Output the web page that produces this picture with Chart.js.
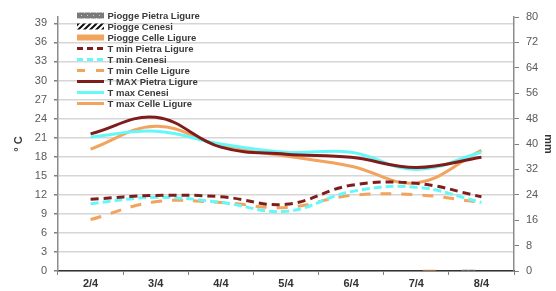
<!DOCTYPE html>
<html><head><meta charset="utf-8">
<script src="https://cdn.jsdelivr.net/npm/chart.js@4/dist/chart.umd.min.js"></script>
<style>html,body{margin:0;padding:0;background:#fff;}#wrap{width:556px;height:291px;}</style>
</head><body><div id="wrap"><canvas id="c" width="556" height="291"></canvas></div>
<script>
const categories = ['2/4','3/4','4/4','5/4','6/4','7/4','8/4'];
const rainPietra = [0,0,0,0,0,0,0.4];
const rainCenesi = [0,0,0,0,0,0,0];
const rainCelle  = [0,0,0,0,0,0.4,0];
const tminPietra = [11.3,11.9,11.7,10.5,13.5,13.8,11.7];
const tminCenesi = [10.6,11.6,10.8,9.4,12.5,13.2,10.8];
const tminCelle  = [8.1,10.9,10.8,10.0,11.9,12.0,10.8];
const tmaxPietra = [21.6,24.2,19.5,18.4,17.9,16.3,17.9];
const tmaxCenesi = [21.1,22.0,20.0,18.7,18.7,16.0,18.7];
const tmaxCelle  = [19.2,22.8,19.7,18.1,16.5,13.9,19.0];
const leftTicks  = [0,3,6,9,12,15,18,21,24,27,30,33,36,39];
const rightTicks = [0,8,16,24,32,40,48,56,64,72,80];

const FONT = '"Liberation Sans", Arial, sans-serif';
const DARKRED = '#7f1d1d', CYAN = '#66f8f8', ORANGE = '#f2a35e';

function makePattern(kind){
  const c = document.createElement('canvas'); c.width = 6; c.height = 6;
  const g = c.getContext('2d');
  if(kind === 'dots'){
    g.fillStyle = '#7a7a7a'; g.fillRect(0,0,6,6);
    g.fillStyle = '#d0d0d0'; g.fillRect(0,0,1,1); g.fillRect(3,3,1,1);
  } else {
    g.fillStyle = '#fff'; g.fillRect(0,0,6,6);
    g.strokeStyle = '#111'; g.lineWidth = 2;
    g.beginPath(); g.moveTo(0,6); g.lineTo(6,0); g.moveTo(-3,3); g.lineTo(3,-3); g.moveTo(3,9); g.lineTo(9,3); g.stroke();
  }
  return g.createPattern(c, 'repeat');
}
const patDots = makePattern('dots');
const patHatch = makePattern('hatch');

const legendPlugin = {
  id: 'customLegend',
  afterDraw(chart){
    const ctx = chart.ctx;
    const x0 = 77, x1 = 104, y0 = 15.5, dy = 11;
    chart.data.datasets.forEach((ds, i) => {
      const y = y0 + i*dy;
      ctx.save();
      if(ds.type === 'bar'){
        ctx.fillStyle = ds.backgroundColor;
        ctx.fillRect(x0, y-3, x1-x0, 6);
      } else {
        ctx.strokeStyle = ds.borderColor; ctx.lineWidth = 3;
        ctx.setLineDash(ds.legendDash || []);
        ctx.beginPath(); ctx.moveTo(x0, y); ctx.lineTo(x1, y); ctx.stroke();
        ctx.setLineDash([]);
      }
      ctx.fillStyle = '#3a3a3a';
      ctx.font = 'bold 9.5px ' + FONT;
      ctx.textBaseline = 'middle'; ctx.textAlign = 'left';
      ctx.fillText(ds.label, x1 + 3.5, y + 0.5);
      ctx.restore();
    });
  }
};

function lineDs(label, data, color, dash, legendDash){
  return { type:'line', label, data, yAxisID:'y', borderColor:color, backgroundColor:color,
    borderWidth:3, borderDash:dash, legendDash, tension:0.4, pointRadius:0, fill:false, order:1 };
}

new Chart(document.getElementById('c'), {
  data: {
    labels: categories,
    datasets: [
      { type:'bar', label:'Piogge Pietra Ligure', data:rainPietra, yAxisID:'y2', backgroundColor:patDots, order:10, categoryPercentage:0.6, barPercentage:1 },
      { type:'bar', label:'Piogge Cenesi', data:rainCenesi, yAxisID:'y2', backgroundColor:patHatch, order:10, categoryPercentage:0.6, barPercentage:1 },
      { type:'bar', label:'Piogge Celle Ligure', data:rainCelle, yAxisID:'y2', backgroundColor:ORANGE, order:10, categoryPercentage:0.6, barPercentage:1 },
      lineDs('T min Pietra Ligure', tminPietra, DARKRED, [8,5], [6,4]),
      lineDs('T min Cenesi', tminCenesi, CYAN, [8,4], [6,4]),
      lineDs('T min Celle Ligure', tminCelle, ORANGE, [11,10], [8,11]),
      lineDs('T MAX Pietra Ligure', tmaxPietra, DARKRED, [], []),
      lineDs('T max Cenesi', tmaxCenesi, CYAN, [], []),
      lineDs('T max Celle Ligure', tmaxCelle, ORANGE, [], [])
    ]
  },
  options: {
    responsive:false, animation:false, devicePixelRatio:1,
    layout:{ padding:{ top:17, left:0, right:0, bottom:0 } },
    plugins:{ legend:{ display:false }, tooltip:{ enabled:false } },
    scales:{
      x:{ type:'category', offset:true,
        grid:{ offset:true, drawOnChartArea:false, tickLength:4, color:'#808080' },
        border:{ color:'#333', width:1.5 },
        ticks:{ font:{ family:FONT, size:11, weight:'bold' }, color:'#333', padding:2 },
        afterFit(s){ s.height = 20; } },
      y:{ position:'left', min:0, max:40,
        afterBuildTicks(s){ s.ticks = leftTicks.map(v => ({ value:v })); },
        grid:{ color:'#d6d6d6', lineWidth:1.5, tickLength:4, tickColor:'#808080', drawTicks:true },
        border:{ color:'#8c8c8c', width:1.5 },
        ticks:{ font:{ family:FONT, size:11 }, color:'#595959', padding:7 },
        title:{ display:true, text:'° C', font:{ family:FONT, size:11, weight:'bold' }, color:'#333', padding:{ top:12, bottom:0 } },
        afterFit(s){ s.width = 58; } },
      y2:{ position:'right', min:0, max:80,
        afterBuildTicks(s){ s.ticks = rightTicks.map(v => ({ value:v })); },
        grid:{ drawOnChartArea:false, tickLength:5, color:'#808080' },
        border:{ color:'#8c8c8c', width:1.5 },
        ticks:{ font:{ family:FONT, size:11 }, color:'#595959', padding:7 },
        title:{ display:true, text:'mm', font:{ family:FONT, size:11, weight:'bold' }, color:'#333', padding:{ top:1, bottom:0 } },
        afterFit(s){ s.width = 42; } }
    }
  },
  plugins:[legendPlugin]
});
</script></body></html>
